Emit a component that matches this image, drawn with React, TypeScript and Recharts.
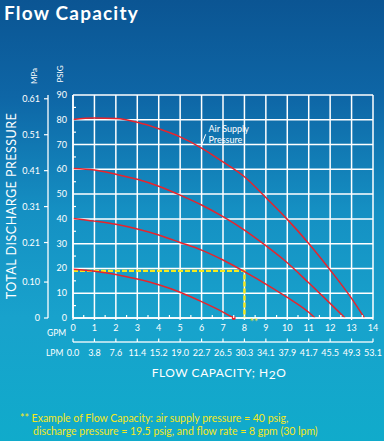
import React from 'react';
import { LineChart, Line, XAxis, YAxis, CartesianGrid, ReferenceDot } from 'recharts';

// flow rate in GPM, discharge pressure in PSIG
const gpmTicks = [0, 1, 2, 3, 4, 5, 6, 7, 8, 9, 10, 11, 12, 13, 14];
const lpmLabels = ['0.0', '3.8', '7.6', '11.4', '15.2', '19.0', '22.7', '26.5', '30.3', '34.1', '37.9', '41.7', '45.5', '49.3', '53.1'];
const psiTicks = [0, 10, 20, 30, 40, 50, 60, 70, 80, 90];
const mpaTicks = [0, 0.1, 0.21, 0.31, 0.41, 0.51, 0.61];

const air80 = [
  { gpm: 0, psi: 80.1 }, { gpm: 1, psi: 80.7 }, { gpm: 2, psi: 80.5 }, { gpm: 3, psi: 79 },
  { gpm: 4, psi: 76.4 }, { gpm: 5, psi: 73.1 }, { gpm: 6, psi: 68.6 }, { gpm: 7, psi: 63 },
  { gpm: 8, psi: 57 }, { gpm: 9, psi: 48.6 }, { gpm: 10, psi: 39.8 }, { gpm: 11, psi: 30.1 },
  { gpm: 12, psi: 19.4 }, { gpm: 13, psi: 7.9 }, { gpm: 13.6, psi: 0 },
];
const air60 = [
  { gpm: 0, psi: 60.3 }, { gpm: 1, psi: 59.7 }, { gpm: 2, psi: 58 }, { gpm: 3, psi: 56 },
  { gpm: 4, psi: 53.2 }, { gpm: 5, psi: 49.6 }, { gpm: 6, psi: 45.6 }, { gpm: 7, psi: 40.9 },
  { gpm: 8, psi: 35.5 }, { gpm: 9, psi: 29.2 }, { gpm: 10, psi: 22.3 }, { gpm: 11, psi: 14.2 },
  { gpm: 12, psi: 5.9 }, { gpm: 12.7, psi: 0 },
];
const air40 = [
  { gpm: 0, psi: 40.2 }, { gpm: 1, psi: 39.1 }, { gpm: 2, psi: 37.8 }, { gpm: 3, psi: 35.9 },
  { gpm: 4, psi: 33.5 }, { gpm: 5, psi: 30.5 }, { gpm: 6, psi: 27.4 }, { gpm: 7, psi: 23.4 },
  { gpm: 8, psi: 18.7 }, { gpm: 9, psi: 13.7 }, { gpm: 10, psi: 8.3 }, { gpm: 11, psi: 2.3 },
  { gpm: 11.3, psi: 0 },
];
const air20 = [
  { gpm: 0, psi: 19.7 }, { gpm: 1, psi: 18.9 }, { gpm: 2, psi: 17.6 }, { gpm: 3, psi: 15.7 },
  { gpm: 4, psi: 13.4 }, { gpm: 5, psi: 10.4 }, { gpm: 6, psi: 6.6 }, { gpm: 7, psi: 2.4 },
  { gpm: 7.5, psi: 0 },
];
const example = [{ gpm: 0, psi: 19 }, { gpm: 8, psi: 19 }, { gpm: 8, psi: 0 }];

const minorGpm = gpmTicks.flatMap((v) => (v < 14 ? [v, v + 0.5] : [v]));
const minorPsi = psiTicks.flatMap((v) => (v < 90 ? [v, v + 5] : [v]));

const RED = '#e8242c';
const YELLOW = '#f4e81c';
const FONT = 'Lato, "Open Sans", sans-serif';
const LPM_GAP = 24; // distance from the GPM axis down to the LPM scale

// GPM ticks, with the LPM scale drawn underneath at the same positions
const GpmTick = (props: any) => {
  const { x, y, payload } = props;
  const v = payload.value;
  if (Number.isInteger(v)) {
    const i = gpmTicks.indexOf(v);
    const step = 300 / 14;
    const ly = y + LPM_GAP;
    return (
      <g>
        <line x1={x} y1={y} x2={x} y2={y + 2} stroke="#fff" strokeWidth={1.3} />
        <text x={x} y={y + 13} textAnchor="middle" fill="#fff" fontSize={9} fontFamily={FONT}>{v}</text>
        {i < gpmTicks.length - 1 && (
          <line x1={x} y1={ly} x2={x + step} y2={ly} stroke="#fff" strokeWidth={1.3} />
        )}
        <line x1={x} y1={ly} x2={x} y2={ly - 3.5} stroke="#fff" strokeWidth={1.2} />
        <text x={x} y={ly + 13.5} textAnchor="middle" fill="#fff" fontSize={9} fontFamily={FONT}>
          {lpmLabels[i]}
        </text>
      </g>
    );
  }
  return <line x1={x} y1={y} x2={x} y2={y - 3} stroke="#fff" strokeWidth={1.2} />;
};

const PsiTick = (props: any) => {
  const { x, y, payload } = props;
  const v = payload.value;
  if (v % 10 === 0) {
    return <text x={x - 6} y={y + 3} textAnchor="end" fill="#fff" fontSize={9} fontFamily={FONT}>{v}</text>;
  }
  return <line x1={x} y1={y} x2={x + 3} y2={y} stroke="#fff" strokeWidth={1.2} />;
};

const MpaTick = (props: any) => {
  const { x, y, payload } = props;
  const v = payload.value;
  return (
    <g>
      <line x1={x - 4} y1={y} x2={x} y2={y} stroke="#fff" strokeWidth={1.2} />
      <text x={x - 8} y={y + 3} textAnchor="end" fill="#fff" fontSize={9} fontFamily={FONT}>
        {v === 0 ? '0' : v.toFixed(2)}
      </text>
    </g>
  );
};

const App = () => {
  return (
    <div
      style={{
        position: 'absolute',
        left: 0,
        top: 0,
        width: 384,
        height: 441,
        overflow: 'hidden',
        background: 'linear-gradient(180deg, #0b5593 0%, #0e66a6 22%, #1590c3 48%, #18a2cc 72%, #10abcb 100%)',
      }}
    >
      <LineChart
        width={384}
        height={441}
        margin={{ top: 95, right: 11, bottom: 99, left: 0 }}
        style={{ position: 'absolute', left: 0, top: 0 }}
      >
        <CartesianGrid
          stroke="#fff"
          strokeWidth={1.5}
          horizontalValues={psiTicks}
          verticalValues={gpmTicks}
        />
        <XAxis
          dataKey="gpm"
          type="number"
          domain={[0, 14]}
          ticks={minorGpm}
          interval={0}
          height={24}
          axisLine={{ stroke: '#fff', strokeWidth: 1.5 }}
          tickLine={false}
          tickSize={0}
          tickMargin={0}
          tick={<GpmTick />}
          allowDataOverflow
        />
        <YAxis
          dataKey="psi"
          type="number"
          domain={[0, 90]}
          ticks={minorPsi}
          interval={0}
          width={25}
          axisLine={{ stroke: '#fff', strokeWidth: 1.5 }}
          tickLine={false}
          tickSize={0}
          tickMargin={0}
          tick={<PsiTick />}
          allowDataOverflow
        />
        <YAxis
          yAxisId="mpa"
          type="number"
          domain={[0, 90 / 145.04]}
          ticks={mpaTicks}
          interval={0}
          width={48}
          axisLine={{ stroke: '#fff', strokeWidth: 1.3 }}
          tickLine={false}
          tickSize={0}
          tickMargin={0}
          tick={<MpaTick />}
          allowDataOverflow
        />
        <Line data={example} dataKey="psi" type="linear" stroke={YELLOW} strokeWidth={2.4} strokeDasharray="5 2" dot={false} isAnimationActive={false} />
        <Line data={air80} dataKey="psi" type="monotone" stroke={RED} strokeWidth={1.5} dot={false} isAnimationActive={false} />
        <Line data={air60} dataKey="psi" type="monotone" stroke={RED} strokeWidth={1.5} dot={false} isAnimationActive={false} />
        <Line data={air40} dataKey="psi" type="monotone" stroke={RED} strokeWidth={1.5} dot={false} isAnimationActive={false} />
        <Line data={air20} dataKey="psi" type="monotone" stroke={RED} strokeWidth={1.5} dot={false} isAnimationActive={false} />
        <ReferenceDot x={7.5} y={0} r={2} fill={RED} stroke="none" />
        <ReferenceDot
          x={8.45}
          y={0}
          r={0}
          stroke="none"
          label={{ value: '**', position: 'bottom', offset: 0, fill: YELLOW, fontSize: 10, fontFamily: FONT }}
        />
      </LineChart>
      <svg width={384} height={441} style={{ position: 'absolute', left: 0, top: 0, pointerEvents: 'none' }}>
        <g fontFamily={FONT} fill="#fff">
          <text x={4} y={20} fontSize={19} fontWeight={700} letterSpacing={1.2}>Flow Capacity</text>
          <text transform="translate(16,206) rotate(-90)" textAnchor="middle" fontSize={12.5} letterSpacing={0.5}>
            TOTAL DISCHARGE PRESSURE
          </text>
          <text transform="translate(37,76) rotate(-90)" textAnchor="middle" fontSize={8}>MPa</text>
          <text transform="translate(63,74) rotate(-90)" textAnchor="middle" fontSize={8}>PSIG</text>
          <text x={47} y={336} fontSize={8.5}>GPM</text>
          <text x={46} y={355.5} fontSize={8.5}>LPM</text>
          <text x={219} y={377} textAnchor="middle" fontSize={12} letterSpacing={0.5}>
            FLOW CAPACITY; H<tspan dy={2}>2</tspan><tspan dy={-2}>O</tspan>
          </text>
          <text x={208.5} y={132} fontSize={9}>Air Supply</text>
          <text x={208.5} y={143} fontSize={9}>Pressure</text>
        </g>
        <line x1={201} y1={146.5} x2={205.7} y2={134.3} stroke="#fff" strokeWidth={1} />
        <g fontFamily={FONT} fill={YELLOW} fontSize={10.5}>
          <text x={20} y={421.5}>** Example of Flow Capacity: air supply pressure = 40 psig,</text>
          <text x={33} y={434.5}>discharge pressure = 19.5 psig, and flow rate = 8 gpm (30 lpm)</text>
        </g>
      </svg>
    </div>
  );
};

export default App;
